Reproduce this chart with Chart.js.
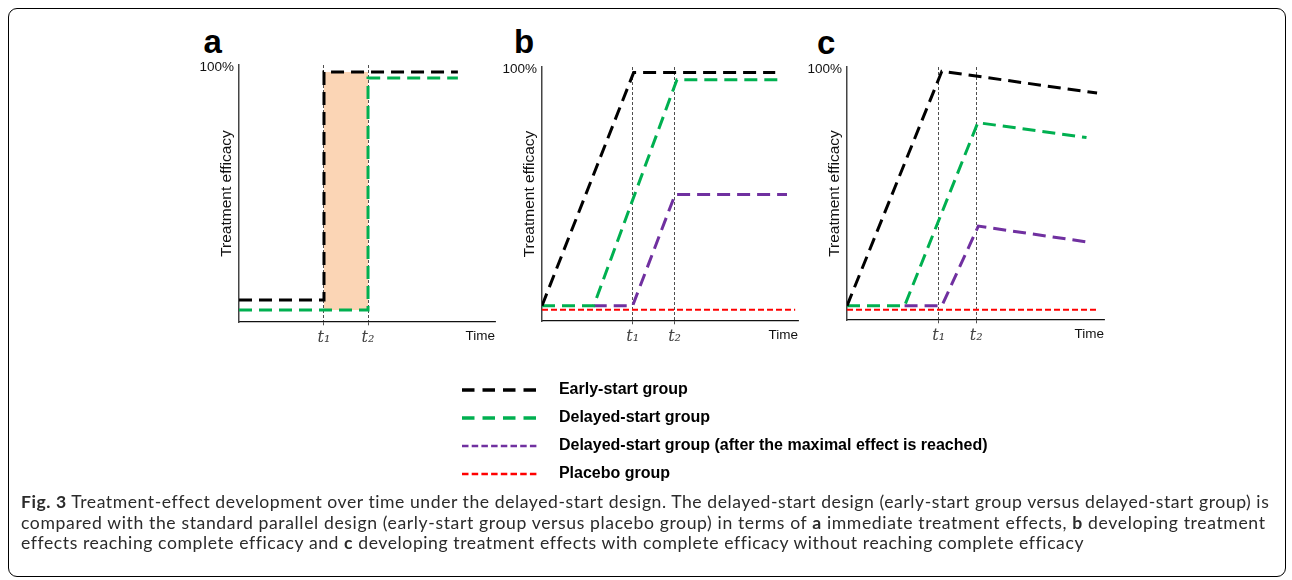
<!DOCTYPE html>
<html>
<head>
<meta charset="utf-8">
<script src="https://cdn.jsdelivr.net/npm/chart.js@4.4.1/dist/chart.umd.min.js"></script>
<style>
  body { margin: 0; background: #fff; width: 1292px; height: 580px; position: relative; overflow: hidden; font-family: "Liberation Sans", Arial, sans-serif; }
  #frame { position: absolute; left: 8px; top: 8px; width: 1278px; height: 569px; border: 1.5px solid #000; border-radius: 9px; box-sizing: border-box; }
  canvas { position: absolute; }
  .tag { position: absolute; font: bold 33px "Liberation Sans"; line-height: 33px; color: #000; }
  #caption { position: absolute; left: 21px; top: 492px; font: 17.6px "Lato"; line-height: 20.7px; color: #2b2b2b; }
  #caption div { white-space: nowrap; }
  #caption span.ln { display: inline-block; }
</style>
</head>
<body>
<div id="frame"></div>
<div class="tag" style="left:203.5px;top:24.5px">a</div>
<div class="tag" style="left:514px;top:25px">b</div>
<div class="tag" style="left:817px;top:25.5px">c</div>
<canvas id="panelA"></canvas>
<canvas id="panelB"></canvas>
<canvas id="panelC"></canvas>
<canvas id="legendBox"></canvas>
<div id="caption">
  <div><span class="ln" data-w="1248"><b>Fig. 3</b> Treatment-effect development over time under the delayed-start design. The delayed-start design (early-start group versus delayed-start group) is</span></div>
  <div><span class="ln" data-w="1244">compared with the standard parallel design (early-start group versus placebo group) in terms of <b>a</b> immediate treatment effects, <b>b</b> developing treatment</span></div>
  <div><span class="ln" data-w="1059">effects reaching complete efficacy and <b>c</b> developing treatment effects with complete efficacy without reaching complete efficacy</span></div>
</div>
<script>
// time runs 0..100 on every panel, efficacy in %
var tickNames = ['t\u2081', 't\u2082']
var yTickText = '100%'
var yTitle = 'Treatment efficacy'
var xTitle = 'Time'

var groupNames = ['Early-start group', 'Delayed-start group', 'Delayed-start group (after the maximal effect is reached)', 'Placebo group']

// panel a: immediate effects
var aMarks = [33.2, 50.4]
var aEarlyX = [0, 33.2, 33.2, 85.5]
var aEarlyY = [8.6, 8.6, 97.3, 97.3]
var aDelayedX = [0, 50.4, 50.4, 85.5]
var aDelayedY = [4.7, 4.7, 94.9, 94.9]
var aShadeX = [33.2, 50.4]
var aShadeY = [97.3, 97.3]
var aShadeBase = 4.7

// panel b: developing effects reaching complete efficacy
var bMarks = [35.4, 51.8]
var bEarlyX = [0, 35.8, 91.1]
var bEarlyY = [6.0, 97.8, 97.8]
var bDelayedX = [0, 20.2, 52.7, 92.3]
var bDelayedY = [6.0, 6.0, 95.0, 95.0]
var bMaxX = [20.2, 35.4, 52.0, 95.7]
var bMaxY = [6.0, 6.0, 49.8, 49.8]
var bPlaceboX = [0, 98.9]
var bPlaceboY = [4.4, 4.4]

// panel c: developing effects without complete efficacy
var cMarks = [35.7, 50.3]
var cEarlyX = [0, 36.9, 97.3]
var cEarlyY = [5.6, 98.3, 89.7]
var cDelayedX = [0, 22.4, 50.9, 93.2]
var cDelayedY = [5.6, 5.6, 78.0, 72.1]
var cMaxX = [22.4, 36.9, 51.1, 93.2]
var cMaxY = [5.6, 5.6, 37.1, 30.9]
var cPlaceboX = [0, 97.3]
var cPlaceboY = [4.1, 4.1]

var BLACK = '#000000', GREEN = '#00b050', PURPLE = '#7030a0', RED = '#ff0000', SHADE = '#fbd5b5'
var Y_W = 45, X_H = 22

function pts (xs, ys) {
  return xs.map(function (x, i) { return {x: x, y: ys[i]} })
}

function dashed (xs, ys, color, width, dash) {
  return {data: pts(xs, ys), borderColor: color, borderWidth: width, borderDash: dash, fill: false, pointRadius: 0}
}

function makePanel (id, box, marks, datasets) {
  var cv = document.getElementById(id)
  cv.width = box.r - box.l + 80
  cv.height = box.b - box.t + 60
  cv.style.left = (box.l - 60) + 'px'
  cv.style.top = (box.t - 20) + 'px'

  new Chart(cv, {
    type: 'line',
    data: {datasets: datasets},
    options: {
      responsive: false,
      animation: false,
      layout: {padding: {left: 60 - Y_W, top: 20, right: 20, bottom: 40 - X_H}},
      plugins: {legend: {display: false}, tooltip: {enabled: false}},
      elements: {point: {radius: 0}, line: {tension: 0, borderCapStyle: 'butt'}},
      scales: {
        x: {
          type: 'linear', min: 0, max: 100,
          afterBuildTicks: function (s) { s.ticks = marks.map(function (v) { return {value: v} }) },
          afterFit: function (s) { s.height = X_H },
          ticks: {
            autoSkip: false, maxRotation: 0, padding: 1, color: '#444',
            font: {family: 'DejaVu Serif', style: 'italic', size: 16},
            callback: function (v, i) { return tickNames[i] }
          },
          grid: {color: '#222', lineWidth: 0.8, tickLength: 5, tickBorderDash: [3, 2]},
          border: {color: '#111', width: 1.3, dash: [3, 2]},
          title: {display: true, text: xTitle, align: 'end', padding: 0, color: '#111',
            font: {family: 'Liberation Sans', size: 13.5}}
        },
        y: {
          min: 0, max: 100,
          afterBuildTicks: function (s) { s.ticks = [{value: 100}] },
          afterFit: function (s) { s.width = Y_W },
          ticks: {padding: 5, labelOffset: 2, color: '#111',
            font: {family: 'Liberation Sans', size: 13.5},
            callback: function () { return yTickText }},
          grid: {display: false, drawTicks: false, tickLength: 0},
          border: {color: '#444', width: 1.5},
          title: {display: true, text: yTitle, padding: {top: Y_W - 21.6, bottom: 0}, color: '#111',
            font: {family: 'Liberation Sans', size: 15.5}}
        }
      }
    }
  })
}

makePanel('panelA', {l: 239, r: 495, t: 65, b: 322}, aMarks, [
  dashed(aEarlyX, aEarlyY, BLACK, 3, [13, 7]),
  dashed(aDelayedX, aDelayedY, GREEN, 3, [13, 7]),
  {data: pts(aShadeX, aShadeY), borderWidth: 0, backgroundColor: SHADE, fill: {value: aShadeBase}, pointRadius: 0}
])

makePanel('panelB', {l: 542, r: 798, t: 67, b: 321}, bMarks, [
  dashed(bEarlyX, bEarlyY, BLACK, 3, [13, 7]),
  dashed(bDelayedX, bDelayedY, GREEN, 3, [13, 7]),
  dashed(bMaxX, bMaxY, PURPLE, 3, [13, 7]),
  dashed(bPlaceboX, bPlaceboY, RED, 2, [6, 3])
])

makePanel('panelC', {l: 847, r: 1104, t: 67, b: 320}, cMarks, [
  dashed(cEarlyX, cEarlyY, BLACK, 3, [13, 7]),
  dashed(cDelayedX, cDelayedY, GREEN, 3, [13, 7]),
  dashed(cMaxX, cMaxY, PURPLE, 3, [13, 7]),
  dashed(cPlaceboX, cPlaceboY, RED, 2, [6, 3])
])

// legend, drawn by chart.js in its own canvas
var legendColors = [BLACK, GREEN, PURPLE, RED]
var legendWidths = [3.3, 3.3, 2.7, 2.7]
var legendDash = [[12.5, 8], [12.5, 8], [6.5, 3.2], [6.5, 3.2]]

var lg = document.getElementById('legendBox')
lg.width = 820
lg.height = 140
lg.style.left = '450px'
lg.style.top = '370px'

new Chart(lg, {
  type: 'line',
  data: {
    datasets: groupNames.map(function (n, i) {
      return {label: n, data: [], borderColor: legendColors[i], borderWidth: legendWidths[i], borderDash: legendDash[i]}
    })
  },
  options: {
    responsive: false,
    animation: false,
    layout: {padding: 0},
    scales: {x: {display: false}, y: {display: false}},
    plugins: {
      tooltip: {enabled: false},
      legend: {
        position: 'left', align: 'start', maxWidth: 800,
        labels: {
          usePointStyle: true, pointStyleWidth: 75.6, padding: 12, color: '#000',
          font: {family: 'Liberation Sans', weight: 'bold', size: 16},
          generateLabels: function (chart) {
            return chart.data.datasets.map(function (d, i) {
              return {
                text: '   ' + d.label, datasetIndex: i, hidden: false,
                strokeStyle: d.borderColor, fillStyle: d.borderColor,
                lineWidth: d.borderWidth, lineDash: d.borderDash, lineCap: 'butt',
                pointStyle: 'line', fontColor: '#000'
              }
            })
          }
        }
      }
    }
  }
})

// squeeze the caption lines to the widths of the printed figure
document.querySelectorAll('#caption span.ln').forEach(function (el) {
  var target = +el.dataset.w
  var w = el.getBoundingClientRect().width
  var n = el.textContent.length
  el.style.letterSpacing = ((target - w) / n) + 'px'
})
</script>
</body>
</html>
